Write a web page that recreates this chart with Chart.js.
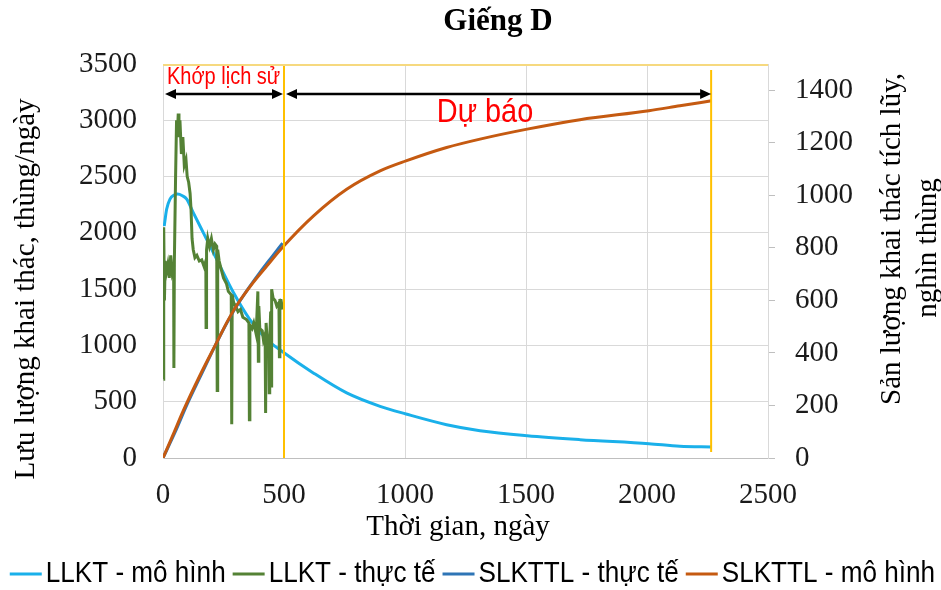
<!DOCTYPE html>
<html>
<head>
<meta charset="utf-8">
<script src="https://cdn.jsdelivr.net/npm/chart.js@4.4.1/dist/chart.umd.min.js"></script>
<style>
  html, body { margin: 0; padding: 0; background: #fff; }
  #wrap { width: 941px; height: 590px; position: relative; }
</style>
</head>
<body>
<div id="wrap"><canvas id="myChart" width="941" height="590"></canvas></div>
<script>
// LLKT - mô hình (thùng/ngày)
const rateModelDays = [5, 15, 29, 45, 60, 80, 98, 125, 167, 222, 291, 359, 428, 497, 621, 759, 897, 1004, 1172, 1310, 1505, 1723, 2008, 2136, 2267]
const rateModel = [2060, 2210, 2300, 2335, 2345, 2330, 2300, 2180, 2000, 1765, 1470, 1230, 1055, 940, 756, 578, 459, 391, 296, 243, 198, 163, 127, 105, 98]

// LLKT - thực tế (thùng/ngày)
const rateHistDays = [2, 3, 6, 9, 14, 20, 26, 32, 38, 44, 45, 47, 52, 56, 60, 63, 66, 70, 76, 82, 88, 95, 100, 106, 112, 116, 120, 125, 132, 140, 150, 160, 170, 177, 178, 180, 185, 192, 200, 208, 215, 222, 224, 226, 232, 240, 250, 262, 270, 282, 284, 286, 292, 300, 310, 320, 330, 345, 355, 357, 359, 368, 375, 385, 392, 394, 396, 400, 410, 415, 422, 424, 426, 432, 437, 439, 441, 445, 447, 449, 455, 463, 470, 479, 481, 483, 488, 494]
const rateHist = [700, 2050, 1400, 1750, 1650, 1720, 1600, 1800, 1650, 1700, 800, 1750, 2500, 3000, 2900, 3060, 2850, 3000, 2700, 2850, 2600, 2650, 2500, 2450, 2350, 2200, 1950, 1850, 1780, 1800, 1750, 1760, 1700, 1750, 1160, 1850, 1950, 1880, 1950, 1850, 1900, 1880, 600, 1850, 1750, 1680, 1600, 1550, 1480, 1450, 300, 1450, 1380, 1350, 1300, 1320, 1250, 1230, 1200, 340, 1180, 1150, 1200, 1100, 1480, 860, 1350, 1150, 1130, 1050, 1100, 400, 1200, 1000, 1050, 580, 1050, 1300, 640, 1500, 1420, 1400, 1350, 1380, 900, 1400, 1400, 1320]

// SLKTTL - thực tế (nghìn thùng)
const cumHistDays = [0, 50, 100, 150, 200, 250, 300, 350, 400, 450, 494]
const cumHist = [0, 98, 205, 302, 398, 490, 572, 642, 706, 766, 818]

// SLKTTL - mô hình (nghìn thùng)
const cumModelDays = [0, 40, 84, 153, 222, 269, 311, 370, 428, 497, 621, 759, 897, 1004, 1172, 1310, 1505, 1723, 2008, 2136, 2267]
const cumModel = [0, 85, 180, 315, 440, 525, 590, 665, 730, 805, 921, 1023, 1093, 1131, 1182, 1214, 1252, 1288, 1322, 1341, 1360]

const xTicks = [0, 500, 1000, 1500, 2000, 2500]
const yLeftTicks = [0, 500, 1000, 1500, 2000, 2500, 3000, 3500]
const yRightTicks = [0, 200, 400, 600, 800, 1000, 1200, 1400]
const historyEnd = 500
const forecastEnd = 2265

const seriesNames = ['LLKT - mô hình', 'LLKT - thực tế', 'SLKTTL - thực tế', 'SLKTTL - mô hình']
const seriesColors = ['#1AB0EA', '#548235', '#2E75B6', '#C55A11']

function pts(xs, ys){
    return xs.map((x, i) => ({x: x, y: ys[i]}))
}

const serif = '"Liberation Serif", "DejaVu Serif", serif'
const sans = '"Liberation Sans", "DejaVu Sans", sans-serif'

// narrow text, close to the Calibri look of the original
function squeezed(ctx, t, x, y, k){
    ctx.save()
    ctx.translate(x, y)
    ctx.scale(k, 1)
    ctx.fillText(t, 0, 0)
    ctx.restore()
}

const extras = {
    id: 'extras',
    afterDatasetsDraw(chart){
        const ctx = chart.ctx
        const a = chart.chartArea
        const xs = chart.scales.x
        ctx.save()
        // top border
        ctx.strokeStyle = '#F6D97F'
        ctx.lineWidth = 2
        ctx.beginPath()
        ctx.moveTo(a.left, a.top + 1)
        ctx.lineTo(a.right, a.top + 1)
        ctx.stroke()
        // phase lines
        const xh = xs.getPixelForValue(historyEnd)
        const xf = xs.getPixelForValue(forecastEnd)
        ctx.strokeStyle = '#FFC000'
        ctx.lineWidth = 2
        ctx.beginPath()
        ctx.moveTo(xh, a.top + 2)
        ctx.lineTo(xh, a.bottom)
        ctx.moveTo(xf, a.top + 6)
        ctx.lineTo(xf, a.bottom - 6)
        ctx.stroke()
        // arrows
        const ay = a.top + 30
        function arrow(x1, x2){
            ctx.strokeStyle = '#000'
            ctx.fillStyle = '#000'
            ctx.lineWidth = 2.5
            ctx.beginPath()
            ctx.moveTo(x1 + 6, ay)
            ctx.lineTo(x2 - 6, ay)
            ctx.stroke()
            ctx.beginPath()
            ctx.moveTo(x1, ay); ctx.lineTo(x1 + 11, ay - 5); ctx.lineTo(x1 + 11, ay + 5); ctx.closePath()
            ctx.moveTo(x2, ay); ctx.lineTo(x2 - 11, ay - 5); ctx.lineTo(x2 - 11, ay + 5); ctx.closePath()
            ctx.fill()
        }
        arrow(xs.getPixelForValue(0) + 2, xh - 1)
        arrow(xh + 2, xf)
        ctx.fillStyle = '#FF0000'
        ctx.textBaseline = 'middle'
        ctx.textAlign = 'left'
        ctx.font = '23px ' + sans
        squeezed(ctx, 'Khớp lịch sử', a.left + 4, a.top + 14, 0.87)
        ctx.textAlign = 'center'
        ctx.font = '34px ' + sans
        squeezed(ctx, 'Dự báo', 485, a.top + 49, 0.85)
        ctx.restore()
    },
    afterDraw(chart){
        const ctx = chart.ctx
        ctx.save()
        ctx.fillStyle = '#000'
        ctx.textBaseline = 'middle'
        ctx.textAlign = 'center'
        ctx.font = 'bold 31px ' + serif
        ctx.fillText('Giếng D', 498, 22)
        ctx.font = '29px ' + serif
        ctx.fillText('Thời gian, ngày', 458, 527)
        function vtext(t, x, y){
            ctx.save()
            ctx.translate(x, y)
            ctx.rotate(-Math.PI / 2)
            ctx.fillText(t, 0, 0)
            ctx.restore()
        }
        vtext('Lưu lượng khai thác, thùng/ngày', 26, 289)
        ctx.font = '29px ' + serif
        vtext('Sản lượng khai thác tích lũy,', 892, 239)
        vtext('nghìn thùng', 928, 248)
        // legend
        const k = 0.9
        ctx.font = '29px ' + sans
        const lineLen = 32, gap = 4, itemGap = 7
        let widths = seriesNames.map(n => ctx.measureText(n).width * k)
        let total = widths.reduce((s, w) => s + w + lineLen + gap, 0) + itemGap * 3
        let x = 935 - total
        const ly = 574
        ctx.textAlign = 'left'
        seriesNames.forEach((n, i) => {
            ctx.strokeStyle = seriesColors[i]
            ctx.lineWidth = 3
            ctx.beginPath()
            ctx.moveTo(x, ly)
            ctx.lineTo(x + lineLen, ly)
            ctx.stroke()
            squeezed(ctx, n, x + lineLen + gap, ly, k)
            x += lineLen + gap + widths[i] + itemGap
        })
        ctx.restore()
    }
}

function createReport(){
    const ctx = document.getElementById('myChart').getContext('2d')
    new Chart(ctx, {
        type: 'scatter',
        data: {
            datasets: [{
                label: seriesNames[0],
                data: pts(rateModelDays, rateModel),
                borderColor: seriesColors[0],
                yAxisID: 'y',
                order: 4,
                cubicInterpolationMode: 'monotone'
            }, {
                label: seriesNames[1],
                data: pts(rateHistDays, rateHist),
                borderColor: seriesColors[1],
                yAxisID: 'y',
                order: 3
            }, {
                label: seriesNames[2],
                data: pts(cumHistDays, cumHist),
                borderColor: seriesColors[2],
                yAxisID: 'y1',
                order: 2,
                cubicInterpolationMode: 'monotone'
            }, {
                label: seriesNames[3],
                data: pts(cumModelDays, cumModel),
                borderColor: seriesColors[3],
                yAxisID: 'y1',
                order: 1,
                cubicInterpolationMode: 'monotone'
            }].map(d => Object.assign(d, {showLine: true, pointRadius: 0, borderWidth: 3, fill: false}))
        },
        options: {
            animation: false,
            responsive: false,
            layout: { padding: { top: 64, left: 0, right: 0, bottom: 0 } },
            plugins: { legend: { display: false }, tooltip: { enabled: false } },
            scales: {
                x: {
                    type: 'linear',
                    min: 0,
                    max: 2500,
                    afterBuildTicks: s => { s.ticks = xTicks.map(v => ({value: v})) },
                    afterFit: s => { s.height = 132 },
                    grid: { color: '#D9D9D9', drawTicks: false },
                    border: { color: '#BFBFBF' },
                    ticks: { padding: 20, color: '#1a1a1a', font: { family: serif, size: 29 }, callback: v => String(v) }
                },
                y: {
                    position: 'left',
                    min: 0,
                    max: 3500,
                    afterBuildTicks: s => { s.ticks = yLeftTicks.map(v => ({value: v})) },
                    ticks: { padding: 26, color: '#1a1a1a', font: { family: serif, size: 29 }, callback: v => String(v) },
                    afterFit: s => { s.width = 163 },
                    grid: { color: '#D9D9D9', drawTicks: false },
                    border: { color: '#D9D9D9' }
                },
                y1: {
                    position: 'right',
                    min: 0,
                    max: 1500,
                    afterBuildTicks: s => { s.ticks = yRightTicks.map(v => ({value: v})) },
                    ticks: { padding: 20, color: '#1a1a1a', font: { family: serif, size: 29 }, callback: v => String(v) },
                    afterFit: s => { s.width = 173 },
                    grid: { drawOnChartArea: false, color: '#BFBFBF', tickLength: 7 },
                    border: { color: '#D9D9D9' }
                }
            }
        },
        plugins: [extras]
    })
}

createReport()
</script>
</body>
</html>
